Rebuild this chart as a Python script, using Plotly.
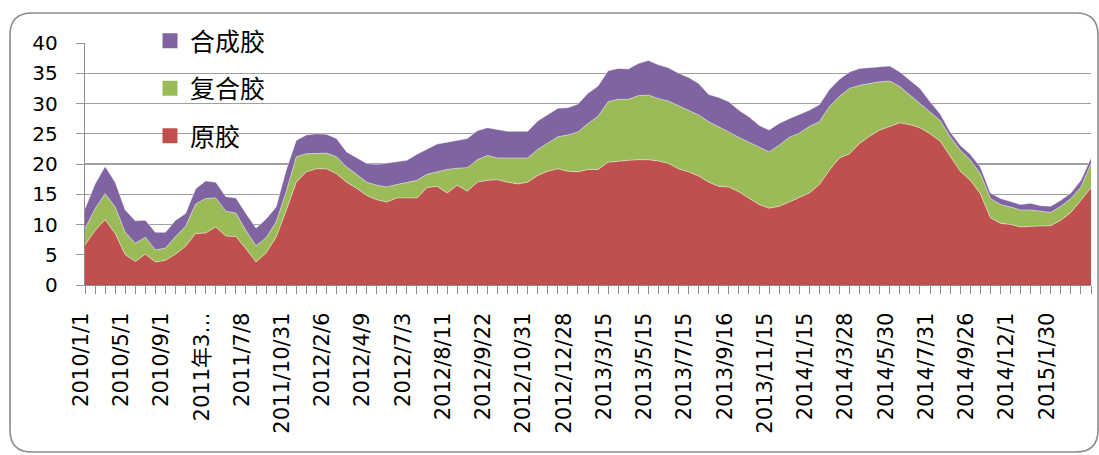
import plotly.graph_objects as go

# ---- data ----
tick_labels = ["2010/1/1", "2010/5/1", "2010/9/1", "2011年3…", "2011/7/8", "2011/10/31",
               "2012/2/6", "2012/4/9", "2012/7/3", "2012/8/11", "2012/9/22", "2012/10/31",
               "2012/12/28", "2013/3/15", "2013/5/15", "2013/7/15", "2013/9/16", "2013/11/15",
               "2014/1/15", "2014/3/28", "2014/5/30", "2014/7/31", "2014/9/26", "2014/12/1",
               "2015/1/30"]

natural = [6.6, 9.0, 10.8, 8.5, 5.0, 3.9, 5.1, 3.8, 4.1, 5.1,
           6.4, 8.5, 8.6, 9.6, 8.1, 8.0, 6.0, 3.8, 5.3, 7.9,
           12.3, 17.0, 18.7, 19.2, 19.2, 18.4, 17.0, 16.0, 14.8, 14.1,
           13.7, 14.4, 14.4, 14.4, 16.1, 16.3, 15.2, 16.5, 15.5, 17.0,
           17.3, 17.4, 17.0, 16.7, 17.0, 18.1, 18.8, 19.2, 18.8, 18.7,
           19.1, 19.1, 20.3, 20.5, 20.6, 20.7, 20.7, 20.5, 20.1, 19.2,
           18.7, 18.0, 17.0, 16.3, 16.2, 15.4, 14.3, 13.3, 12.7, 13.0,
           13.7, 14.4, 15.2, 16.6, 19.0, 21.0, 21.7, 23.4, 24.6, 25.6,
           26.2, 26.8, 26.5, 26.0, 25.0, 23.8, 21.3, 18.8, 17.3, 15.1,
           11.1, 10.2, 10.0, 9.6, 9.7, 9.7, 9.8, 10.7, 12.0, 14.0,
           16.1]

compound = [2.7, 3.6, 4.3, 4.4, 3.7, 3.0, 2.8, 2.0, 2.0, 2.9,
            3.3, 4.9, 5.7, 4.8, 4.1, 3.9, 3.0, 2.7, 2.5, 2.5,
            3.1, 4.2, 3.0, 2.6, 2.6, 2.8, 2.5, 2.3, 2.2, 2.4,
            2.5, 2.2, 2.5, 2.9, 2.2, 2.4, 3.9, 2.8, 3.9, 3.7,
            4.1, 3.6, 4.0, 4.3, 4.0, 4.3, 4.7, 5.3, 6.0, 6.6,
            7.6, 8.8, 10.0, 10.2, 10.1, 10.6, 10.7, 10.3, 10.3, 10.4,
            10.2, 10.1, 10.0, 9.9, 9.1, 9.0, 9.3, 9.5, 9.3, 10.1,
            10.7, 10.7, 11.0, 10.4, 10.5, 10.2, 10.8, 9.6, 8.7, 8.0,
            7.5, 6.0, 4.9, 4.0, 3.6, 3.4, 3.2, 3.5, 3.4, 3.3,
            3.2, 3.1, 2.9, 2.8, 2.7, 2.5, 2.2, 2.3, 2.3, 2.2,
            4.0]

synthetic = [3.3, 4.1, 4.5, 4.1, 3.7, 3.7, 2.8, 2.9, 2.6, 2.7,
             2.1, 2.5, 2.9, 2.6, 2.4, 2.5, 2.8, 2.9, 3.1, 2.5,
             3.6, 2.7, 3.1, 3.2, 3.1, 3.0, 2.5, 2.7, 3.1, 3.4,
             3.9, 3.7, 3.7, 4.3, 4.2, 4.6, 4.5, 4.6, 4.8, 4.8,
             4.6, 4.7, 4.4, 4.4, 4.4, 4.7, 4.7, 4.7, 4.5, 4.6,
             5.0, 5.0, 5.1, 5.1, 5.0, 5.3, 5.7, 5.6, 5.5, 5.4,
             5.4, 5.2, 4.5, 4.8, 5.0, 4.5, 4.2, 3.6, 3.6, 3.6,
             3.1, 3.1, 2.7, 2.8, 2.8, 2.8, 2.7, 2.8, 2.6, 2.4,
             2.5, 2.4, 2.5, 2.5, 1.7, 1.1, 0.8, 0.8, 0.9, 1.1,
             0.9, 1.0, 0.9, 0.9, 1.1, 0.9, 1.0, 1.0, 0.9, 1.1,
             0.9]

series_names = ["原胶", "复合胶", "合成胶"]
series_colors = ["#C0504D", "#9BBB59", "#8064A2"]
label_step = 4

# ---- figure ----
W, H = 1099, 455
ML, MT, MR, MB = 85, 43, 8, 170
PW, PH = W - ML - MR, H - MT - MB

def pp(x, y):
    return (x - ML) / PW, (H - MB - y) / PH

x = list(range(len(natural)))
fig = go.Figure()
for name, vals, col in zip(series_names, [natural, compound, synthetic], series_colors):
    fig.add_trace(go.Scatter(
        x=x, y=vals, name=name, stackgroup="one", mode="lines",
        line=dict(width=0.8, color="rgba(255,255,255,0.55)"),
        fillcolor=col, showlegend=False, hoverinfo="skip"))

# legend entries (square swatches), top to bottom: 合成胶, 复合胶, 原胶
for name, col in reversed(list(zip(series_names, series_colors))):
    fig.add_trace(go.Scatter(
        x=[None], y=[None], mode="markers", name=name, legendgroup=name,
        marker=dict(symbol="square", size=15, color=col), showlegend=True))

# rounded outer chart frame
l, t, r, b, rad = 10, 13, 1098, 452, 22
def P(xp, yp):
    a, c = pp(xp, yp)
    return f"{a:.5f},{c:.5f}"
path = (f"M{P(l+rad, t)} L{P(r-rad, t)} Q{P(r, t)} {P(r, t+rad)} "
        f"L{P(r, b-rad)} Q{P(r, b)} {P(r-rad, b)} L{P(l+rad, b)} "
        f"Q{P(l, b)} {P(l, b-rad)} L{P(l, t+rad)} Q{P(l, t)} {P(l+rad, t)} Z")
fig.add_shape(type="path", path=path, xref="paper", yref="paper",
              line=dict(color="#8c8c8c", width=1.6), layer="below")

lx, ly = pp(150, 18)
fig.update_layout(
    width=W, height=H, autosize=False,
    margin=dict(l=ML, r=MR, t=MT, b=MB, autoexpand=False),
    paper_bgcolor="white", plot_bgcolor="white",
    showlegend=True,
    legend=dict(x=lx, y=ly, xanchor="left", yanchor="top",
                traceorder="grouped", tracegroupgap=12,
                bgcolor="rgba(0,0,0,0)",
                font=dict(family="Noto Sans CJK SC", size=25, color="#000000")),
    xaxis=dict(
        range=[0, len(natural) - 1],
        tickmode="array",
        tickvals=[i * label_step for i in range(len(tick_labels))],
        ticktext=tick_labels,
        tickangle=-90,
        ticks="outside", ticklen=8, tickcolor="#8c8c8c", tickwidth=1,
        minor=dict(ticks="outside", ticklen=8, tickcolor="#8c8c8c", dtick=1, tick0=0,
                   showgrid=False),
        showline=True, linecolor="#8c8c8c", linewidth=1.2,
        showgrid=False, zeroline=False,
        ticklabelstandoff=10,
        ticklabelshift=-4,
        tickfont=dict(family="DejaVu Sans, Noto Sans CJK SC", size=21, color="#000000"),
    ),
    yaxis=dict(
        range=[0, 40], dtick=5, tick0=0,
        ticks="outside", ticklen=8, tickcolor="#9a9a9a",
        showline=True, linecolor="#8c8c8c", linewidth=1.2,
        showgrid=True, gridcolor="#a0a0a0", gridwidth=1.3,
        zeroline=False,
        ticklabelstandoff=14,
        tickfont=dict(family="DejaVu Sans", size=20, color="#000000"),
    ),
)

fig.write_html("out.html",
               config={"displayModeBar": False, "staticPlot": True},
               post_script="document.body.style.margin='0';document.body.style.overflow='hidden';")
